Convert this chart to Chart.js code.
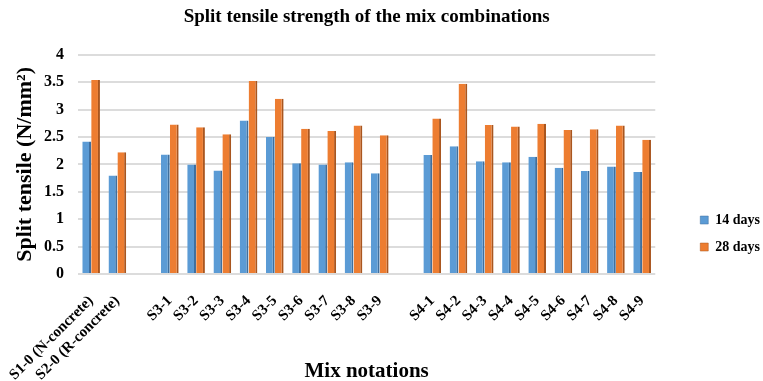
<!DOCTYPE html>
<html>
<head>
<meta charset="utf-8">
<script src="https://cdn.jsdelivr.net/npm/chart.js@4/dist/chart.umd.min.js"></script>
<style>
  html, body { margin: 0; padding: 0; background: #fff; }
  #wrap { width: 763px; height: 381px; }
</style>
</head>
<body>
<div id="wrap"><canvas id="tensileChart" width="763" height="381"></canvas></div>
<script>
// mix notations (empty strings = spacer slots between groups)
const mixLabels = [
  'S1-0 (N-concrete)', 'S2-0 (R-concrete)', '',
  'S3-1', 'S3-2', 'S3-3', 'S3-4', 'S3-5', 'S3-6', 'S3-7', 'S3-8', 'S3-9', '',
  'S4-1', 'S4-2', 'S4-3', 'S4-4', 'S4-5', 'S4-6', 'S4-7', 'S4-8', 'S4-9'
];

// split tensile strength, N/mm2
const days14 = [
  2.42, 1.80, null,
  2.18, 2.00, 1.89, 2.80, 2.50, 2.02, 2.00, 2.04, 1.84, null,
  2.17, 2.33, 2.06, 2.04, 2.14, 1.94, 1.88, 1.96, 1.86
];
const days28 = [
  3.54, 2.22, null,
  2.73, 2.68, 2.55, 3.52, 3.20, 2.65, 2.61, 2.71, 2.53, null,
  2.84, 3.47, 2.72, 2.69, 2.74, 2.63, 2.64, 2.71, 2.45
];

const yTicks = [0, 0.5, 1, 1.5, 2, 2.5, 3, 3.5, 4];

const serif = "'Liberation Serif', 'Times New Roman', serif";

// nudge the legend right and up after layout (the chart area stays where it is)
const legendShift = {
  id: 'legendShift',
  afterLayout(chart) {
    const lg = chart.legend;
    if (lg) {
      lg.left += 32;
      lg.right += 32;
      lg.bottom -= 7;
    }
  }
};

const ctx = document.getElementById('tensileChart').getContext('2d');

const myChart = new Chart(ctx, {
  type: 'bar',
  data: {
    labels: mixLabels,
    datasets: [
      {
        label: '14 days',
        data: days14,
        backgroundColor: '#5B9BD5',
        borderColor: '#3F6F9E',
        borderWidth: { top: 0, right: 2, bottom: 0, left: 0 },
        borderSkipped: false
      },
      {
        label: '28 days',
        data: days28,
        backgroundColor: '#ED7D31',
        borderColor: '#A9561F',
        borderWidth: { top: 0, right: 2, bottom: 0, left: 0 },
        borderSkipped: false
      }
    ]
  },
  options: {
    responsive: false,
    animation: false,
    layout: { padding: { left: 12, right: 25, top: 2, bottom: 0 } },
    datasets: {
      bar: { categoryPercentage: 0.68, barPercentage: 0.98 }
    },
    plugins: {
      title: {
        display: true,
        fullSize: false,
        text: 'Split tensile strength of the mix combinations',
        color: '#000',
        font: { family: serif, size: 19, weight: 'bold' },
        padding: { top: 4, bottom: 26 }
      },
      legend: {
        position: 'right',
        align: 'end',
        fullSize: false,
        labels: {
          color: '#000',
          boxWidth: 8,
          boxHeight: 8,
          padding: 13,
          font: { family: serif, size: 14, weight: 'bold' }
        }
      },
      tooltip: { enabled: false }
    },
    scales: {
      x: {
        grid: { display: false },
        border: { display: false },
        afterFit(scale) {
          scale.height -= 35;
        },
        ticks: {
          color: '#000',
          minRotation: 45,
          maxRotation: 45,
          autoSkip: false,
          padding: 10,
          font: { family: serif, size: 15, weight: 'bold' }
        },
        title: {
          display: true,
          text: 'Mix notations',
          color: '#000',
          font: { family: serif, size: 21, weight: 'bold' },
          padding: { top: 0, bottom: -3 }
        }
      },
      y: {
        min: 0,
        max: 4,
        border: { display: false },
        grid: { color: '#DCDCDC', lineWidth: 2, drawTicks: false },
        afterBuildTicks(scale) {
          scale.ticks = yTicks.map(v => ({ value: v }));
        },
        afterFit(scale) {
          scale.width = 66;
        },
        ticks: {
          color: '#000',
          padding: 14,
          font: { family: serif, size: 16, weight: 'bold' },
          callback: v => String(v)
        },
        title: {
          display: true,
          text: 'Split tensile (N/mm²)',
          color: '#000',
          font: { family: serif, size: 22, weight: 'bold' },
          padding: { top: 0, bottom: 6 }
        }
      }
    }
  },
  plugins: [legendShift]
});
</script>
</body>
</html>
